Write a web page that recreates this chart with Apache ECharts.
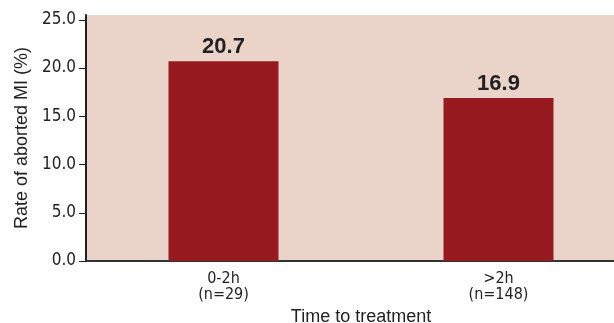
<!DOCTYPE html>
<html>
<head>
<meta charset="utf-8">
<script src="https://cdn.jsdelivr.net/npm/echarts@6/dist/echarts.min.js"></script>
<style>
  html, body { margin: 0; padding: 0; background: #ffffff; }
  #chart { width: 614px; height: 323px; }
</style>
</head>
<body>
<div id="chart"></div>
<script>
// Rate of aborted MI by time to treatment
const categories = ['0-2h\n(n=29)', '>2h\n(n=148)'];
const abortedRate = [20.7, 16.9];
const yTicks = [0, 5, 10, 15, 20, 25];

const chart = echarts.init(document.getElementById('chart'), null, { renderer: 'canvas' });

const tickFont = '"DejaVu Sans Condensed", "Liberation Sans Narrow", sans-serif';
const textFont = '"Liberation Sans", Arial, sans-serif';

chart.setOption({
  animation: false,
  backgroundColor: '#ffffff',
  grid: {
    left: 86,
    top: 15,
    bottom: 62,
    width: 550,
    outerBoundsMode: 'none',
    containLabel: false,
    show: true,
    backgroundColor: '#ead3c8',
    borderWidth: 0
  },
  xAxis: {
    type: 'category',
    data: categories,
    name: 'Time to treatment',
    nameLocation: 'middle',
    nameGap: 47,
    nameTextStyle: { fontFamily: textFont, fontSize: 18, color: '#222' },
    axisLine: { show: true, lineStyle: { color: '#333', width: 2 } },
    axisTick: { show: false },
    axisLabel: {
      fontFamily: tickFont,
      fontSize: 16,
      color: '#222',
      lineHeight: 16,
      margin: 10
    }
  },
  yAxis: {
    type: 'value',
    min: 0,
    max: 25.5,
    name: 'Rate of aborted MI (%)',
    nameLocation: 'middle',
    nameGap: 55,
    nameRotate: 90,
    nameTextStyle: { fontFamily: textFont, fontSize: 18, color: '#222' },
    splitLine: { show: false },
    axisLine: { show: true, lineStyle: { color: '#222', width: 2 } },
    axisTick: {
      show: true,
      length: 7,
      lineStyle: { color: '#222', width: 1 },
      customValues: yTicks
    },
    axisLabel: {
      fontFamily: tickFont,
      fontSize: 17,
      color: '#222',
      margin: 10,
      customValues: yTicks,
      formatter: v => v.toFixed(1)
    }
  },
  series: [{
    type: 'bar',
    data: abortedRate,
    barWidth: 110,
    itemStyle: { color: '#961a20' },
    label: {
      show: true,
      position: 'top',
      distance: 3,
      fontFamily: textFont,
      fontWeight: 'bold',
      fontSize: 22,
      color: '#222',
      formatter: p => p.value.toFixed(1)
    }
  }]
});
</script>
</body>
</html>
